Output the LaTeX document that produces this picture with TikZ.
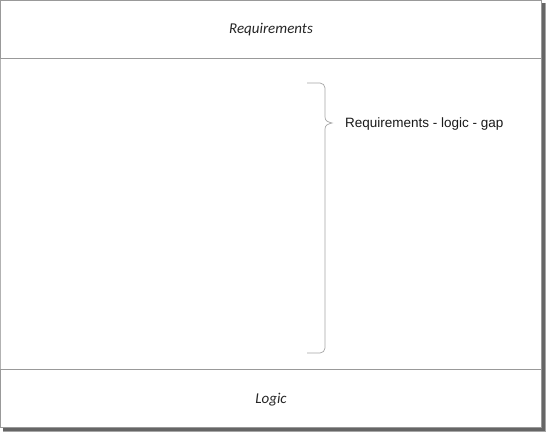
\documentclass[tikz,border=0pt]{standalone}
\usepackage{fontspec}
\setmainfont{Liberation Sans}
\newfontfamily\boxfont{Carlito}
\begin{document}
\begin{tikzpicture}[x=1pt,y=-1pt,
  framebox/.style={draw=gray!80,line width=0.8pt},
  boxlabel/.style={font=\boxfont\itshape\fontsize{15}{17}\selectfont,text=black!85},
  gaplabel/.style={font=\fontsize{13.5}{16}\selectfont,text=black!90,anchor=west,inner sep=0pt},
  bracestyle/.style={draw=gray!70,line width=0.7pt}]
\useasboundingbox (0,0) rectangle (546,432);
% shadow
\fill[black!35] (3,3) rectangle (546,432);
\fill[black!60] (3,3) rectangle (544.5,430.5);
\fill[white] (0.5,0.5) rectangle (541.5,427);
% boxes
\draw[framebox] (0.5,0.5) rectangle (541.5,58.5);
\node[boxlabel] (req) at (271,30) {Requirements};
\draw[framebox] (0.5,369) rectangle (541.5,427);
\node[boxlabel] (logic) at (271,400) {Logic};
\draw[gray!60,line width=0.8pt] (0.5,58.5) -- (0.5,369);
\draw[gray!80,line width=0.8pt] (541.5,58.5) -- (541.5,369);
% brace
\draw[bracestyle] (307,83) -- (320,83) arc[start angle=-90,end angle=0,radius=5]
  -- (325,117) .. controls (325,121) and (328,122) .. (332,123)
  .. controls (328,124) and (325,125) .. (325,129)
  -- (325,348) arc[start angle=0,end angle=90,radius=5] -- (307,353);
\coordinate (tip) at (332,123);
\node[gaplabel] (gap) at (345,124) {Requirements - logic - gap};
\end{tikzpicture}
\end{document}
